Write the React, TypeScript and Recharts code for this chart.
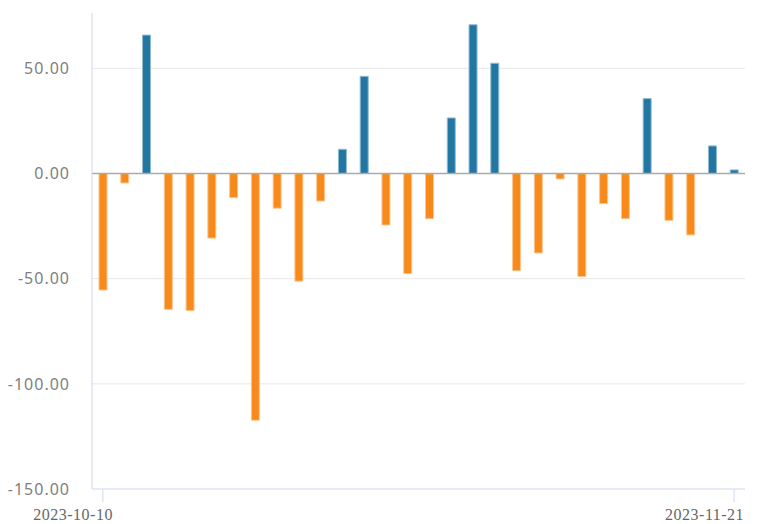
import { Bar, BarChart, CartesianGrid, Cell, ReferenceLine, XAxis, YAxis } from "recharts";

const dates = [
  "2023-10-10", "2023-10-11", "2023-10-12", "2023-10-13", "2023-10-16",
  "2023-10-17", "2023-10-18", "2023-10-19", "2023-10-20", "2023-10-23",
  "2023-10-24", "2023-10-25", "2023-10-26", "2023-10-27", "2023-10-30",
  "2023-10-31", "2023-11-01", "2023-11-02", "2023-11-03", "2023-11-06",
  "2023-11-07", "2023-11-08", "2023-11-09", "2023-11-13", "2023-11-14",
  "2023-11-15", "2023-11-16", "2023-11-17", "2023-11-20", "2023-11-21",
];

const changes = [
  -55.4, -4.5, 65.8, -64.6, -65.2, -30.7, -11.5, -117.3, -16.5, -51.2,
  -13.1, 11.5, 46.2, -24.5, -47.6, -21.5, 26.4, 70.7, 52.4, -46.2,
  -37.8, -2.6, -49.0, -14.3, -21.5, 35.6, -22.3, -29.2, 13.1, 1.7,
];

const yTicks = [-150, -100, -50, 0, 50];
const gridValues = [-100, -50, 50];
const xTicks = [dates[0], dates[dates.length - 1]];

const data = dates.map((date, i) => ({ date, value: changes[i] }));

const BLUE = "#2176a2";
const ORANGE = "#f78a1a";

function DateTick(props: any) {
  const { x, y, payload } = props;
  return (
    <text
      x={x + 10}
      y={y + 16}
      textAnchor="end"
      fill="#666"
      fontSize={16}
      fontFamily="'Liberation Serif', serif"
      letterSpacing={0.5}
    >
      {payload.value}
    </text>
  );
}

export default function App() {
  return (
    <div style={{ position: "fixed", left: 0, top: 0, background: "#fff" }}>
      <BarChart
        width={771}
        height={524}
        data={data}
        margin={{ top: 13, right: 26, bottom: 0, left: 0 }}
        barCategoryGap={0}
        accessibilityLayer={false}
        style={{ outline: "none" }}
      >
        <CartesianGrid
          vertical={false}
          stroke="#e8e8e8"
          horizontalValues={gridValues}
          syncWithTicks={false}
        />
        <XAxis
          dataKey="date"
          ticks={xTicks}
          interval={0}
          height={35}
          stroke="#ccd6eb"
          tickSize={13}
          tick={<DateTick />}
        />
        <YAxis
          domain={[-150, 76.3]}
          ticks={yTicks}
          width={92}
          stroke="#ccd6eb"
          tickLine={false}
          tickSize={0}
          tickMargin={22}
          tickFormatter={(v: number) => v.toFixed(2)}
          tick={{ fill: "#808080", fontSize: 16, fontFamily: "'Noto Sans', sans-serif", letterSpacing: 1 }}
        />
        <ReferenceLine y={0} stroke="#aaaaaa" strokeWidth={1.5} />
        <Bar dataKey="value" barSize={8} isAnimationActive={false}>
          {data.map((d) => (
            <Cell
              key={d.date}
              fill={d.value >= 0 ? BLUE : ORANGE}
              stroke={d.value >= 0 ? "#8fbbd3" : "#fbc690"}
              strokeWidth={1}
            />
          ))}
        </Bar>
      </BarChart>
    </div>
  );
}
